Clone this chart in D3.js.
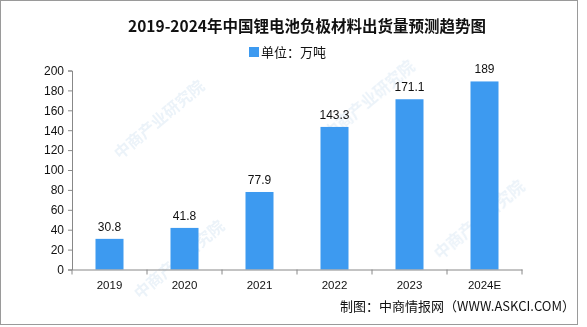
<!DOCTYPE html>
<html><head><meta charset="utf-8">
<script src="https://cdn.jsdelivr.net/npm/d3@7"></script>
<style>
html,body{margin:0;padding:0;background:#fff;}
svg{display:block;}
</style></head>
<body>
<svg id="chart" width="587" height="327"></svg>
<script>
const categories = ["2019","2020","2021","2022","2023","2024E"];
const values = [30.8, 41.8, 77.9, 143.3, 171.1, 189];
const valueLabels = ["30.8","41.8","77.9","143.3","171.1","189"];
const yTicks = [0,20,40,60,80,100,120,140,160,180,200];
const titleText = "2019-2024年中国锂电池负极材料出货量预测趋势图";
const legendText = "单位：万吨";
const sourceText = "制图：中商情报网（WWW.ASKCI.COM）";
const watermarkText = "中商产业研究院";

const svg = d3.select("#chart");
const W = 587, H = 327;
const margin = {left:72, right:65, top:71, bottom:57};
const blue = "#3d9af0";
const font = "'Liberation Sans','Noto Sans CJK SC',sans-serif";
const cjk = "'Noto Sans CJK SC',sans-serif";

// outer border
svg.append("rect").attr("x",0.5).attr("y",0.5).attr("width",577).attr("height",324)
  .attr("fill","#fff").attr("stroke","#9a9a9a").attr("stroke-width",1);

// faint watermarks (kept fully inside the frame)
const wm = svg.append("g").attr("fill","#b9d3ea").attr("opacity",0.28)
  .attr("font-family",cjk).attr("font-size",16).attr("font-weight","bold");
[[120,160],[330,140],[140,300],[440,260]].forEach(([x,y])=>{
  wm.append("text").attr("transform",`translate(${x},${y}) rotate(-40)`).text(watermarkText);
});

const xAxisScale = d3.scaleBand().domain(categories).range([margin.left, W - margin.right]);
const y = d3.scaleLinear().domain([0,200]).range([269.5, 70.5]);

// bars
svg.append("g").selectAll("rect").data(values).join("rect")
  .attr("x",(d,i)=>xAxisScale(categories[i]) + xAxisScale.bandwidth()/2 - 14)
  .attr("width",28)
  .attr("y",d=>y(d))
  .attr("height",d=>y(0)-y(d))
  .attr("fill",blue);

// value labels
svg.append("g").selectAll("text").data(values).join("text")
  .attr("x",(d,i)=>xAxisScale(categories[i]) + xAxisScale.bandwidth()/2)
  .attr("y",d=>y(d)-8)
  .attr("text-anchor","middle")
  .attr("font-family",font).attr("font-size",12).attr("fill","#111")
  .text((d,i)=>valueLabels[i]);

// y axis
const yAxis = svg.append("g").attr("transform",`translate(${margin.left},0)`)
  .call(d3.axisLeft(y).tickValues(yTicks).tickSize(4).tickPadding(4));
yAxis.selectAll("path,line").attr("stroke","#888");
yAxis.selectAll("text").attr("font-family",font).attr("font-size",12).attr("fill","#111");

// x axis
const xAxis = svg.append("g").attr("transform",`translate(0,${y(0)})`)
  .call(d3.axisBottom(xAxisScale).tickSize(0).tickPadding(11));
xAxis.select("path").attr("stroke","#888");
xAxis.selectAll("text").attr("font-family",font).attr("font-size",11.5).attr("fill","#111");
// boundary ticks
svg.append("g").selectAll("line").data(d3.range(categories.length+1)).join("line")
  .attr("x1",i=>margin.left + i*xAxisScale.step()).attr("x2",i=>margin.left + i*xAxisScale.step())
  .attr("y1",y(0)).attr("y2",y(0)+5).attr("stroke","#888");

// title
svg.append("text").attr("x",307).attr("y",32).attr("text-anchor","middle")
  .attr("font-family",cjk).attr("font-size",15.5).attr("font-weight","bold").attr("fill","#111")
  .text(titleText);

// legend
svg.append("rect").attr("x",249).attr("y",47).attr("width",10).attr("height",10).attr("fill",blue);
svg.append("text").attr("x",261).attr("y",57).attr("font-family",cjk).attr("font-size",13).attr("fill","#111")
  .text(legendText);

// source
svg.append("text").attr("x",575).attr("y",311).attr("text-anchor","end")
  .attr("font-family",cjk).attr("font-size",13).attr("fill","#111")
  .text(sourceText);
</script>
</body></html>
